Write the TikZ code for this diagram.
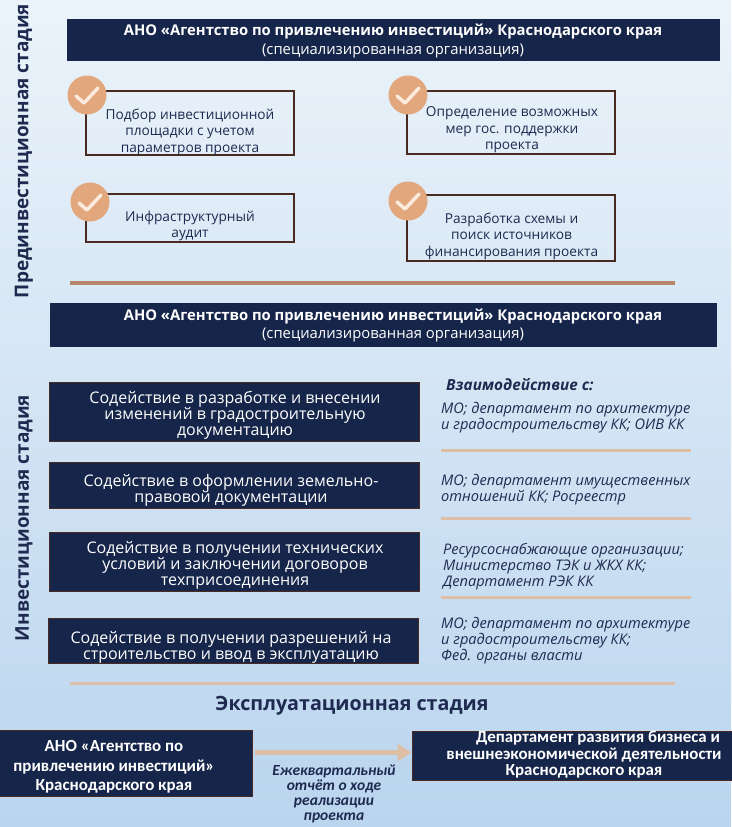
\documentclass[tikz,border=0pt]{standalone}
\usepackage{fontspec}
\setmainfont{Open Sans}
\newfontfamily\narrowfont{Carlito}
\usetikzlibrary{calc,arrows.meta}
\definecolor{navy}{HTML}{16254A}
\definecolor{brownb}{HTML}{4A2A20}
\definecolor{tanline}{HTML}{B98568}
\definecolor{lighttan}{HTML}{DDBFA5}
\definecolor{badge}{HTML}{E2A77D}
\definecolor{tickc}{HTML}{FBEBDD}
\definecolor{ink}{HTML}{1F2A50}
\definecolor{bgtop}{HTML}{EBF3FA}
\definecolor{bgbot}{HTML}{BAD5EE}
\tikzset{
  x=1pt,y=-1pt,
  headerbox/.style={fill=navy,inner sep=0pt},
  headertext/.style={text=white,align=center,inner sep=0pt,font=\fontsize{14.8}{18.5}\selectfont},
  stagebox/.style={fill=navy,draw=brownb,line width=1pt,inner sep=0pt},
  steptext/.style={text=white,align=center,inner sep=0pt,font=\fontsize{16}{16}\selectfont},
  taskbox/.style={draw=brownb,line width=1.3pt,inner sep=0pt},
  tasktext/.style={text=ink,align=center,inner sep=0pt,font=\fontsize{13.7}{16.5}\selectfont},
  okdisc/.style={circle,fill=badge,minimum size=39pt,inner sep=0pt},
  ticksign/.style={draw=tickc,line width=3.5pt,line cap=round,line join=round},
  partner/.style={text=ink,align=left,anchor=west,inner sep=0pt,font=\itshape\fontsize{14.6}{16}\selectfont},
  stagetitle/.style={text=ink,inner sep=0pt,font=\bfseries\fontsize{19}{20}\selectfont},
  bottomtext/.style={text=white,align=center,inner sep=0pt,font=\narrowfont\bfseries\fontsize{16.9}{19.5}\selectfont},
}
\newcommand{\okbadge}[3]{%
  \node[okdisc] (#1) at (#2,#3) {};
  \draw[ticksign] ($(#1)+(-11,1)$) -- ($(#1)+(-3,8)$) -- ($(#1)+(11,-7)$);
}
\begin{document}
\begin{tikzpicture}
\useasboundingbox (0,0) rectangle (731,827);
\shade[top color=bgtop,bottom color=bgbot] (0,0) rectangle (731,827);

% stage titles
\node[stagetitle,rotate=90] (st1) at (24,151) {Прединвестиционная стадия};
\node[stagetitle,rotate=90] (st2) at (24,518) {Инвестиционная стадия};
\node[stagetitle,font=\bfseries\fontsize{19.7}{20}\selectfont] (st3) at (352,706) {Эксплуатационная стадия};

% header 1
\node[headerbox,minimum width=653pt,minimum height=42pt] (h1) at (393.5,40) {};
\node[headertext] (h1t) at (393,41) {\textbf{АНО «Агентство по привлечению инвестиций» Краснодарского края}\\(специализированная организация)};

% task boxes
\node[taskbox,minimum width=208pt,minimum height=64pt] (t1) at (190,123) {};
\node[tasktext] (t1t) at (190,132) {Подбор инвестиционной\\площадки с учетом\\параметров проекта};
\okbadge{c1}{87}{95}
\node[taskbox,minimum width=208pt,minimum height=48pt] (t2) at (190,218) {};
\node[tasktext] (t2t) at (190,226) {Инфраструктурный\\аудит};
\okbadge{c2}{90}{202}
\node[taskbox,minimum width=208pt,minimum height=63pt] (t3) at (511,122.5) {};
\node[tasktext] (t3t) at (512,130) {Определение возможных\\мер гос. поддержки\\проекта};
\okbadge{c3}{408}{95}
\node[taskbox,minimum width=208pt,minimum height=66pt] (t4) at (511,228) {};
\node[tasktext] (t4t) at (511.5,236) {Разработка схемы и\\поиск источников\\финансирования проекта};
\okbadge{c4}{408}{201}

% separator 1
\fill[tanline] (70,281) rectangle (675,285);

% header 2
\node[headerbox,minimum width=667pt,minimum height=44pt] (h2) at (383.5,325) {};
\node[headertext] (h2t) at (393,325.5) {\textbf{АНО «Агентство по привлечению инвестиций» Краснодарского края}\\(специализированная организация)};

% steps
\node[stagebox,minimum width=370pt,minimum height=59pt] (s1) at (234,411.5) {};
\node[steptext] (s1t) at (235,415) {Содействие в разработке и внесении\\изменений в градостроительную\\документацию};
\node[stagebox,minimum width=370pt,minimum height=46pt] (s2) at (234,485) {};
\node[steptext] (s2t) at (231,490.5) {Содействие в оформлении земельно-\\правовой документации};
\node[stagebox,minimum width=370pt,minimum height=59pt] (s3) at (234,561.5) {};
\node[steptext] (s3t) at (235,565) {Содействие в получении технических\\условий и заключении договоров\\техприсоединения};
\node[stagebox,minimum width=370pt,minimum height=45pt] (s4) at (233,641) {};
\node[steptext] (s4t) at (231,647) {Содействие в получении разрешений на\\строительство и ввод в эксплуатацию};

% partners
\node[partner,font=\bfseries\itshape\fontsize{15.3}{16}\selectfont] (p0) at (446,385) {Взаимодействие с:};
\node[partner] (p1) at (441,418) {МО; департамент по архитектуре\\и градостроительству КК; ОИВ КК};
\fill[lighttan] (441,449) rectangle (691,452);
\node[partner] (p2) at (441,490) {МО; департамент имущественных\\отношений КК; Росреестр};
\fill[lighttan] (441,517) rectangle (691,520);
\node[partner] (p3) at (443,567) {Ресурсоснабжающие организации;\\Министерство ТЭК и ЖКХ КК;\\Департамент РЭК КК};
\fill[lighttan] (441,596) rectangle (691,599);
\node[partner] (p4) at (441,641) {МО; департамент по архитектуре\\и градостроительству КК;\\Фед. органы власти};
\fill[lighttan] (70,682) rectangle (675,685);

% bottom row
\node[stagebox,minimum width=254pt,minimum height=66pt] (L) at (125,763.5) {};
\node[bottomtext] (Lt) at (114,767) {АНО «Агентство по\\привлечению инвестиций»\\Краснодарского края};
\node[stagebox,minimum width=321pt,minimum height=49pt] (R) at (572.5,755.5) {};
\node[bottomtext,font=\narrowfont\bfseries\fontsize{16.9}{16.5}\selectfont] (Rt) at (584,755) {\hspace*{28pt}Департамент развития бизнеса и\\внешнеэкономической деятельности\\Краснодарского края};
\coordinate (arrowstart) at (255,752.5);
\draw[lighttan,line width=5.5pt,-{Triangle[length=14pt,width=17pt]}] (arrowstart) -- (R.west |- arrowstart);
\node[text=ink,align=center,inner sep=0pt,font=\narrowfont\bfseries\itshape\fontsize{15.5}{15}\selectfont] (note) at (334,794) {Ежеквартальный\\отчёт о ходе\\реализации\\проекта};
\end{tikzpicture}
\end{document}
